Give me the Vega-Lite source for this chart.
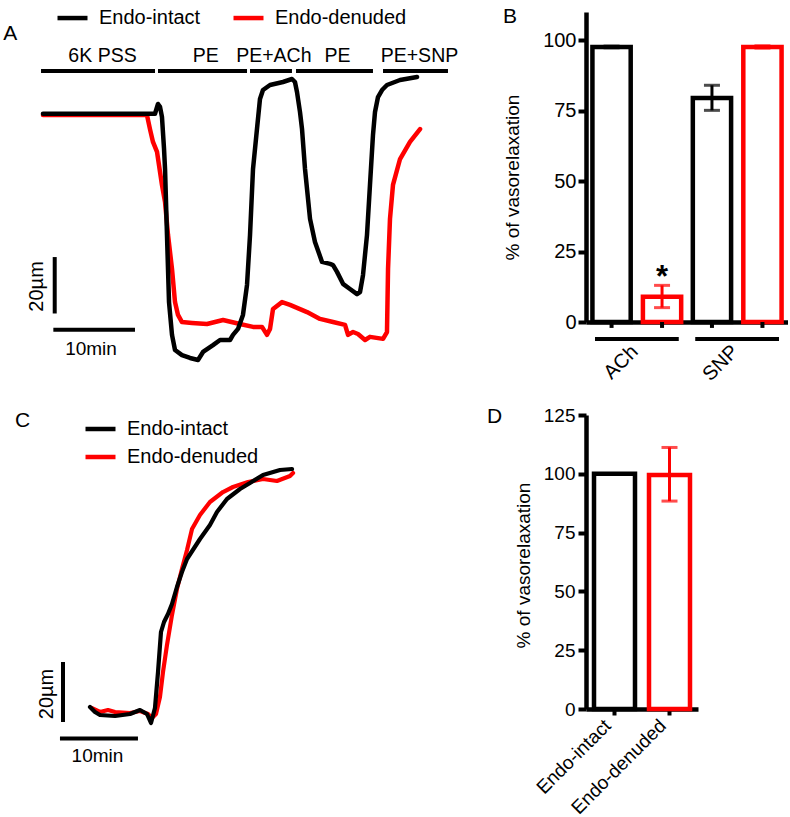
{
  "$schema": "https://vega.github.io/schema/vega-lite/v6.json",
  "background": "white",
  "padding": {"left": 0, "top": 0, "right": 0, "bottom": 0},
  "bounds": "flush",
  "columns": 2,
  "spacing": {"row": 33, "column": 156},
  "resolve": {"scale": {"color": "independent", "x": "independent", "y": "independent"}, "legend": {"color": "independent"}},
  "config": {
    "font": "Liberation Sans",
    "view": {"stroke": null},
    "axis": {"grid": false, "domainColor": "black", "tickColor": "black", "labelColor": "black", "titleColor": "black", "labelFont": "Liberation Sans", "titleFont": "Liberation Sans", "titleFontWeight": "normal", "domainWidth": 4.5, "tickWidth": 4},
    "legend": {"labelFont": "Liberation Sans", "labelColor": "black", "padding": 0},
    "title": {"font": "Liberation Sans", "fontWeight": "normal", "fontSize": 21, "color": "black", "anchor": "start", "frame": "group", "baseline": "alphabetic"},
    "text": {"font": "Liberation Sans", "color": "black"}
  },
  "datasets": {
    "traceA": [
      {"series": "Endo-denuded", "t": 0.12, "d": -0.35}, {"series": "Endo-denuded", "t": 12.96, "d": -0.35}, {"series": "Endo-denuded", "t": 13.33, "d": -5.3}, {"series": "Endo-denuded", "t": 13.7, "d": -9.8}, {"series": "Endo-denuded", "t": 14.2, "d": -13.3}, {"series": "Endo-denuded", "t": 14.81, "d": -24.9}, {"series": "Endo-denuded", "t": 15.19, "d": -30.9}, {"series": "Endo-denuded", "t": 15.56, "d": -42.5}, {"series": "Endo-denuded", "t": 16.05, "d": -54.4}, {"series": "Endo-denuded", "t": 16.42, "d": -66.0}, {"series": "Endo-denuded", "t": 16.79, "d": -70.5}, {"series": "Endo-denuded", "t": 17.28, "d": -73.0}, {"series": "Endo-denuded", "t": 18.52, "d": -73.3}, {"series": "Endo-denuded", "t": 20.37, "d": -73.7}, {"series": "Endo-denuded", "t": 22.35, "d": -72.3}, {"series": "Endo-denuded", "t": 24.44, "d": -73.7}, {"series": "Endo-denuded", "t": 26.05, "d": -74.7}, {"series": "Endo-denuded", "t": 27.16, "d": -74.7}, {"series": "Endo-denuded", "t": 27.78, "d": -77.5}, {"series": "Endo-denuded", "t": 28.15, "d": -75.4}, {"series": "Endo-denuded", "t": 28.52, "d": -68.4}, {"series": "Endo-denuded", "t": 29.63, "d": -66.0}, {"series": "Endo-denuded", "t": 30.62, "d": -67.0}, {"series": "Endo-denuded", "t": 32.72, "d": -69.5}, {"series": "Endo-denuded", "t": 34.32, "d": -71.9}, {"series": "Endo-denuded", "t": 35.93, "d": -73.0}, {"series": "Endo-denuded", "t": 37.41, "d": -74.0}, {"series": "Endo-denuded", "t": 37.78, "d": -77.5}, {"series": "Endo-denuded", "t": 38.4, "d": -76.5}, {"series": "Endo-denuded", "t": 39.01, "d": -77.2}, {"series": "Endo-denuded", "t": 39.88, "d": -79.3}, {"series": "Endo-denuded", "t": 40.49, "d": -78.2}, {"series": "Endo-denuded", "t": 42.1, "d": -78.9}, {"series": "Endo-denuded", "t": 42.59, "d": -76.5}, {"series": "Endo-denuded", "t": 42.72, "d": -54.4}, {"series": "Endo-denuded", "t": 42.96, "d": -36.8}, {"series": "Endo-denuded", "t": 43.33, "d": -24.9}, {"series": "Endo-denuded", "t": 44.2, "d": -15.8}, {"series": "Endo-denuded", "t": 45.43, "d": -9.8}, {"series": "Endo-denuded", "t": 46.67, "d": -5.3},
      {"series": "Endo-intact", "t": 0.12, "d": 0.1}, {"series": "Endo-intact", "t": 13.95, "d": 0.1}, {"series": "Endo-intact", "t": 14.32, "d": 3.5}, {"series": "Endo-intact", "t": 14.57, "d": 2.5}, {"series": "Endo-intact", "t": 14.81, "d": -1.0}, {"series": "Endo-intact", "t": 15.06, "d": -12.0}, {"series": "Endo-intact", "t": 15.19, "d": -19.3}, {"series": "Endo-intact", "t": 15.43, "d": -42.5}, {"series": "Endo-intact", "t": 15.68, "d": -66.0}, {"series": "Endo-intact", "t": 16.05, "d": -77.5}, {"series": "Endo-intact", "t": 16.42, "d": -82.8}, {"series": "Endo-intact", "t": 17.28, "d": -84.6}, {"series": "Endo-intact", "t": 18.27, "d": -85.6}, {"series": "Endo-intact", "t": 19.26, "d": -86.3}, {"series": "Endo-intact", "t": 19.88, "d": -83.5}, {"series": "Endo-intact", "t": 21.11, "d": -81.1}, {"series": "Endo-intact", "t": 21.98, "d": -79.3}, {"series": "Endo-intact", "t": 23.21, "d": -79.3}, {"series": "Endo-intact", "t": 23.58, "d": -77.5}, {"series": "Endo-intact", "t": 24.2, "d": -75.4}, {"series": "Endo-intact", "t": 24.81, "d": -70.5}, {"series": "Endo-intact", "t": 25.31, "d": -60.0}, {"series": "Endo-intact", "t": 25.68, "d": -42.5}, {"series": "Endo-intact", "t": 26.05, "d": -19.3}, {"series": "Endo-intact", "t": 26.54, "d": -5.26}, {"series": "Endo-intact", "t": 26.91, "d": 5.26}, {"series": "Endo-intact", "t": 27.28, "d": 8.42}, {"series": "Endo-intact", "t": 28.15, "d": 10.18}, {"series": "Endo-intact", "t": 29.75, "d": 11.23}, {"series": "Endo-intact", "t": 30.86, "d": 12.28}, {"series": "Endo-intact", "t": 31.23, "d": 11.23}, {"series": "Endo-intact", "t": 31.48, "d": 7.72}, {"series": "Endo-intact", "t": 31.85, "d": 0.7}, {"series": "Endo-intact", "t": 32.1, "d": -5.26}, {"series": "Endo-intact", "t": 32.47, "d": -19.3}, {"series": "Endo-intact", "t": 33.09, "d": -36.8}, {"series": "Endo-intact", "t": 33.7, "d": -44.9}, {"series": "Endo-intact", "t": 34.57, "d": -51.9}, {"series": "Endo-intact", "t": 35.56, "d": -52.6}, {"series": "Endo-intact", "t": 35.93, "d": -53.0}, {"series": "Endo-intact", "t": 36.42, "d": -55.4}, {"series": "Endo-intact", "t": 37.16, "d": -59.6}, {"series": "Endo-intact", "t": 38.02, "d": -61.4}, {"series": "Endo-intact", "t": 38.89, "d": -63.2}, {"series": "Endo-intact", "t": 39.26, "d": -62.5}, {"series": "Endo-intact", "t": 39.63, "d": -56.5}, {"series": "Endo-intact", "t": 40.12, "d": -42.5}, {"series": "Endo-intact", "t": 40.49, "d": -24.9}, {"series": "Endo-intact", "t": 40.86, "d": -7.4}, {"series": "Endo-intact", "t": 41.11, "d": 0.7}, {"series": "Endo-intact", "t": 41.48, "d": 5.96}, {"series": "Endo-intact", "t": 41.98, "d": 8.42}, {"series": "Endo-intact", "t": 42.59, "d": 10.18}, {"series": "Endo-intact", "t": 44.2, "d": 11.93}, {"series": "Endo-intact", "t": 46.3, "d": 12.98}
    ],
    "traceC": [
      {"series": "Endo-denuded", "t": 0.26, "d": 1.33}, {"series": "Endo-denuded", "t": 1.28, "d": 0}, {"series": "Endo-denuded", "t": 2.31, "d": 0.67}, {"series": "Endo-denuded", "t": 3.21, "d": 0}, {"series": "Endo-denuded", "t": 5.13, "d": -0.33}, {"series": "Endo-denuded", "t": 6.41, "d": 0.33}, {"series": "Endo-denuded", "t": 7.44, "d": -0.67}, {"series": "Endo-denuded", "t": 7.95, "d": -2.0}, {"series": "Endo-denuded", "t": 8.46, "d": -0.67}, {"series": "Endo-denuded", "t": 8.97, "d": 5.0}, {"series": "Endo-denuded", "t": 9.36, "d": 13.33}, {"series": "Endo-denuded", "t": 9.87, "d": 22.33}, {"series": "Endo-denuded", "t": 10.51, "d": 32.33}, {"series": "Endo-denuded", "t": 11.15, "d": 41.0}, {"series": "Endo-denuded", "t": 11.79, "d": 47.67}, {"series": "Endo-denuded", "t": 12.44, "d": 54.0}, {"series": "Endo-denuded", "t": 13.08, "d": 61.0}, {"series": "Endo-denuded", "t": 14.1, "d": 65.67}, {"series": "Endo-denuded", "t": 15.38, "d": 70.0}, {"series": "Endo-denuded", "t": 17.05, "d": 73.33}, {"series": "Endo-denuded", "t": 18.33, "d": 75.0}, {"series": "Endo-denuded", "t": 20.26, "d": 76.67}, {"series": "Endo-denuded", "t": 22.18, "d": 77.67}, {"series": "Endo-denuded", "t": 23.97, "d": 77.0}, {"series": "Endo-denuded", "t": 25.64, "d": 78.67}, {"series": "Endo-denuded", "t": 26.03, "d": 79.67},
      {"series": "Endo-intact", "t": 0, "d": 1.67}, {"series": "Endo-intact", "t": 0.64, "d": 0}, {"series": "Endo-intact", "t": 1.28, "d": -1.0}, {"series": "Endo-intact", "t": 3.21, "d": -1.33}, {"series": "Endo-intact", "t": 5.13, "d": -0.67}, {"series": "Endo-intact", "t": 6.41, "d": 0.67}, {"series": "Endo-intact", "t": 7.31, "d": -0.67}, {"series": "Endo-intact", "t": 7.82, "d": -3.67}, {"series": "Endo-intact", "t": 8.33, "d": 1.33}, {"series": "Endo-intact", "t": 8.72, "d": 13.33}, {"series": "Endo-intact", "t": 9.1, "d": 26.67}, {"series": "Endo-intact", "t": 9.49, "d": 30.0}, {"series": "Endo-intact", "t": 10.0, "d": 32.67}, {"series": "Endo-intact", "t": 10.51, "d": 36.0}, {"series": "Endo-intact", "t": 11.15, "d": 41.67}, {"series": "Endo-intact", "t": 11.79, "d": 46.67}, {"series": "Endo-intact", "t": 12.44, "d": 51.0}, {"series": "Endo-intact", "t": 14.1, "d": 57.67}, {"series": "Endo-intact", "t": 15.38, "d": 62.33}, {"series": "Endo-intact", "t": 16.28, "d": 66.67}, {"series": "Endo-intact", "t": 17.56, "d": 71.0}, {"series": "Endo-intact", "t": 19.23, "d": 74.33}, {"series": "Endo-intact", "t": 20.51, "d": 76.33}, {"series": "Endo-intact", "t": 22.18, "d": 79.0}, {"series": "Endo-intact", "t": 24.36, "d": 80.67}, {"series": "Endo-intact", "t": 25.9, "d": 81.0}
    ],
    "protocol": [
      {"label": "6K PSS", "t": -0.12, "t2": 13.95, "tm": 7.47},
      {"label": "PE", "t": 14.32, "t2": 25.31, "tm": 20.22},
      {"label": "PE+ACh", "t": 25.68, "t2": 30.86, "tm": 28.62},
      {"label": "PE", "t": 31.36, "t2": 40.86, "tm": 36.48},
      {"label": "PE+SNP", "t": 42.1, "t2": 50.12, "tm": 46.6}
    ],
    "scaleA": [
      {"t": 1.57, "t2": 1.57, "d": -50.2, "d2": -70.0},
      {"t": 1.4, "t2": 11.48, "d": -75.7, "d2": -75.7}
    ],
    "scaleC": [
      {"t": -3.46, "t2": -3.46, "d": 16.67, "d2": -3.33},
      {"t": -3.85, "t2": 6.15, "d": -8.83, "d2": -8.83}
    ],
    "barsB": [
      {"agonist": "ACh", "group": "Endo-intact", "mean": 97.6, "lo": 97.3, "hi": 97.9, "sig": ""},
      {"agonist": "ACh", "group": "Endo-denuded", "mean": 9.0, "lo": 5.1, "hi": 13.0, "sig": "*"},
      {"agonist": "SNP", "group": "Endo-intact", "mean": 79.5, "lo": 75.1, "hi": 84.0, "sig": ""},
      {"agonist": "SNP", "group": "Endo-denuded", "mean": 97.6, "lo": 97.2, "hi": 98.0, "sig": ""}
    ],
    "barsD": [
      {"group": "Endo-intact", "mean": 100, "lo": 100, "hi": 100},
      {"group": "Endo-denuded", "mean": 99.5, "lo": 88.4, "hi": 111.2}
    ]
  },
  "concat": [
    {
      "width": 430, "height": 370,
      "layer": [
        {
          "data": {"name": "traceA"},
          "mark": {"type": "line", "strokeWidth": 4.5, "strokeCap": "round", "strokeJoin": "round"},
          "encoding": {
            "x": {"field": "t", "type": "quantitative", "scale": {"domain": [-5.185, 47.9], "nice": false, "zero": false}, "axis": null},
            "y": {"field": "d", "type": "quantitative", "scale": {"domain": [-94.04, 35.79], "nice": false, "zero": false}, "axis": null},
            "color": {"field": "series", "type": "nominal", "scale": {"domain": ["Endo-intact", "Endo-denuded"], "range": ["black", "#ff0000"]},
              "legend": {"orient": "none", "legendX": 55, "legendY": -11.7, "direction": "horizontal", "title": null, "symbolType": "stroke", "symbolSize": 900, "symbolStrokeWidth": 4.5, "labelFontSize": 20, "labelOffset": 9, "columnPadding": 23, "padding": 0}}
          }
        },
        {
          "data": {"name": "protocol"},
          "mark": {"type": "rule", "strokeWidth": 4, "color": "black"},
          "encoding": {"x": {"field": "t", "type": "quantitative"}, "x2": {"field": "t2"}, "y": {"datum": 15.09, "type": "quantitative"}}
        },
        {
          "data": {"name": "protocol"},
          "mark": {"type": "text", "fontSize": 19.5, "baseline": "alphabetic", "align": "center"},
          "encoding": {"x": {"field": "tm", "type": "quantitative"}, "y": {"datum": 18.25, "type": "quantitative"}, "text": {"field": "label"}}
        },
        {
          "data": {"name": "scaleA"},
          "mark": {"type": "rule", "strokeWidth": 4, "color": "black"},
          "encoding": {"x": {"field": "t", "type": "quantitative"}, "x2": {"field": "t2"}, "y": {"field": "d", "type": "quantitative"}, "y2": {"field": "d2"}}
        },
        {
          "data": {"values": [{"label": "A", "t": -4.78, "d": 25.86}]},
          "mark": {"type": "text", "fontSize": 21, "align": "left", "baseline": "alphabetic"},
          "encoding": {"x": {"field": "t", "type": "quantitative"}, "y": {"field": "d", "type": "quantitative"}, "text": {"field": "label"}}
        },
        {
          "data": {"values": [{"label": "10min", "t": 6.05, "d": -82.3}]},
          "mark": {"type": "text", "fontSize": 19, "align": "center", "baseline": "middle"},
          "encoding": {"x": {"field": "t", "type": "quantitative"}, "y": {"field": "d", "type": "quantitative"}, "text": {"field": "label"}}
        },
        {
          "data": {"values": [{"label": "20µm", "t": -0.65, "d": -60.5}]},
          "mark": {"type": "text", "fontSize": 20, "align": "center", "baseline": "middle", "angle": 270},
          "encoding": {"x": {"field": "t", "type": "quantitative"}, "y": {"field": "d", "type": "quantitative"}, "text": {"field": "label"}}
        }
      ]
    },
    {
      "width": 202, "height": 310,
      "data": {"name": "barsB"},
      "title": {"text": "B", "offset": -15, "dx": -83},
      "encoding": {
        "x": {"field": "agonist", "type": "nominal", "sort": ["ACh", "SNP"], "scale": {"paddingInner": 0.116, "paddingOuter": 0.064},
          "axis": {"title": null, "ticks": false, "labelAngle": -45, "labelAlign": "right", "labelBaseline": "top", "labelFontSize": 20, "labelPadding": 19, "labelOffset": -9}}
      },
      "layer": [
        {
          "mark": {"type": "bar", "filled": false, "strokeWidth": 4.5},
          "encoding": {
            "xOffset": {"field": "group", "type": "nominal", "sort": ["Endo-intact", "Endo-denuded"], "scale": {"paddingInner": 0.242, "paddingOuter": 0}},
            "y": {"field": "mean", "type": "quantitative", "scale": {"domain": [0, 110], "nice": false},
              "axis": {"title": "% of vasorelaxation", "values": [0, 25, 50, 75, 100], "tickSize": 8, "labelFontSize": 20, "labelPadding": 2, "titleFontSize": 19, "titlePadding": 20, "titleY": 165}},
            "color": {"field": "group", "type": "nominal", "scale": {"domain": ["Endo-intact", "Endo-denuded"], "range": ["black", "#ff0000"]}, "legend": null}
          }
        },
        {
          "mark": {"type": "rule", "strokeWidth": 3},
          "encoding": {
            "xOffset": {"field": "group", "type": "nominal", "sort": ["Endo-intact", "Endo-denuded"]},
            "y": {"field": "lo", "type": "quantitative"}, "y2": {"field": "hi"},
            "color": {"field": "group", "type": "nominal", "legend": null}
          }
        },
        {
          "mark": {"type": "tick", "orient": "horizontal", "size": 16, "thickness": 3},
          "encoding": {
            "xOffset": {"field": "group", "type": "nominal", "sort": ["Endo-intact", "Endo-denuded"]},
            "y": {"field": "lo", "type": "quantitative"},
            "color": {"field": "group", "type": "nominal", "legend": null}
          }
        },
        {
          "mark": {"type": "tick", "orient": "horizontal", "size": 16, "thickness": 3},
          "encoding": {
            "xOffset": {"field": "group", "type": "nominal", "sort": ["Endo-intact", "Endo-denuded"]},
            "y": {"field": "hi", "type": "quantitative"},
            "color": {"field": "group", "type": "nominal", "legend": null}
          }
        },
        {
          "mark": {"type": "rule", "strokeWidth": 4, "color": "black"},
          "encoding": {
            "xOffset": {"field": "group", "type": "nominal", "sort": ["Endo-intact", "Endo-denuded"]},
            "y": {"datum": 0, "type": "quantitative"}, "y2": {"datum": -2.1}
          }
        },
        {
          "mark": {"type": "bar", "color": "black", "width": {"band": 0.94}},
          "encoding": {"y": {"datum": -5.32, "type": "quantitative"}, "y2": {"datum": -6.74}}
        },
        {
          "mark": {"type": "text", "fontSize": 31, "fontWeight": "bold", "baseline": "alphabetic", "dy": 2},
          "encoding": {
            "xOffset": {"field": "group", "type": "nominal", "sort": ["Endo-intact", "Endo-denuded"]},
            "y": {"field": "hi", "type": "quantitative"},
            "text": {"field": "sig"}
          }
        }
      ]
    },
    {
      "width": 430, "height": 360,
      "layer": [
        {
          "data": {"name": "traceC"},
          "mark": {"type": "line", "strokeWidth": 4.2, "strokeCap": "round", "strokeJoin": "round"},
          "encoding": {
            "x": {"field": "t", "type": "quantitative", "scale": {"domain": [-11.538, 43.59], "nice": false, "zero": false}, "axis": null},
            "y": {"field": "d", "type": "quantitative", "scale": {"domain": [-21, 99], "nice": false, "zero": false}, "axis": null},
            "color": {"field": "series", "type": "nominal", "scale": {"domain": ["Endo-intact", "Endo-denuded"], "range": ["black", "#ff0000"]},
              "legend": {"orient": "none", "legendX": 83, "legendY": -3.5, "direction": "vertical", "title": null, "symbolType": "stroke", "symbolSize": 900, "symbolStrokeWidth": 4.5, "labelFontSize": 20, "labelOffset": 9, "rowPadding": -7, "padding": 0}}
          }
        },
        {
          "data": {"name": "scaleC"},
          "mark": {"type": "rule", "strokeWidth": 4, "color": "black"},
          "encoding": {"x": {"field": "t", "type": "quantitative"}, "x2": {"field": "t2"}, "y": {"field": "d", "type": "quantitative"}, "y2": {"field": "d2"}}
        },
        {
          "data": {"values": [{"label": "C", "t": -9.62, "d": 95.0}]},
          "mark": {"type": "text", "fontSize": 21, "align": "left", "baseline": "alphabetic"},
          "encoding": {"x": {"field": "t", "type": "quantitative"}, "y": {"field": "d", "type": "quantitative"}, "text": {"field": "label"}}
        },
        {
          "data": {"values": [{"label": "10min", "t": 0.96, "d": -14.5}]},
          "mark": {"type": "text", "fontSize": 19, "align": "center", "baseline": "middle"},
          "encoding": {"x": {"field": "t", "type": "quantitative"}, "y": {"field": "d", "type": "quantitative"}, "text": {"field": "label"}}
        },
        {
          "data": {"values": [{"label": "20µm", "t": -5.55, "d": 6.0}]},
          "mark": {"type": "text", "fontSize": 20, "align": "center", "baseline": "middle", "angle": 270},
          "encoding": {"x": {"field": "t", "type": "quantitative"}, "y": {"field": "d", "type": "quantitative"}, "text": {"field": "label"}}
        }
      ]
    },
    {
      "width": 112, "height": 294,
      "data": {"name": "barsD"},
      "title": {"text": "D", "offset": -21, "dx": -99},
      "encoding": {
        "x": {"field": "group", "type": "nominal", "sort": ["Endo-intact", "Endo-denuded"], "scale": {"paddingInner": 0.2545, "paddingOuter": 0.1455},
          "axis": {"title": null, "labelAngle": -45, "labelAlign": "right", "labelBaseline": "top", "labelFontSize": 19, "tickSize": 6, "labelPadding": 1, "labelOffset": -13}}
      },
      "layer": [
        {
          "mark": {"type": "bar", "filled": false, "strokeWidth": 4.5},
          "encoding": {
            "y": {"field": "mean", "type": "quantitative", "scale": {"domain": [0, 125], "nice": false},
              "axis": {"title": "% of vasorelaxation", "values": [0, 25, 50, 75, 100, 125], "tickSize": 8, "labelFontSize": 19, "labelPadding": 3, "titleFontSize": 19, "titlePadding": 10, "titleY": 150}},
            "color": {"field": "group", "type": "nominal", "scale": {"domain": ["Endo-intact", "Endo-denuded"], "range": ["black", "#ff0000"]}, "legend": null}
          }
        },
        {
          "mark": {"type": "rule", "strokeWidth": 3},
          "encoding": {"y": {"field": "lo", "type": "quantitative"}, "y2": {"field": "hi"}, "color": {"field": "group", "type": "nominal", "legend": null}}
        },
        {
          "mark": {"type": "tick", "orient": "horizontal", "size": 16, "thickness": 3},
          "encoding": {"y": {"field": "lo", "type": "quantitative"}, "color": {"field": "group", "type": "nominal", "legend": null}}
        },
        {
          "mark": {"type": "tick", "orient": "horizontal", "size": 16, "thickness": 3},
          "encoding": {"y": {"field": "hi", "type": "quantitative"}, "color": {"field": "group", "type": "nominal", "legend": null}}
        }
      ]
    }
  ]
}
